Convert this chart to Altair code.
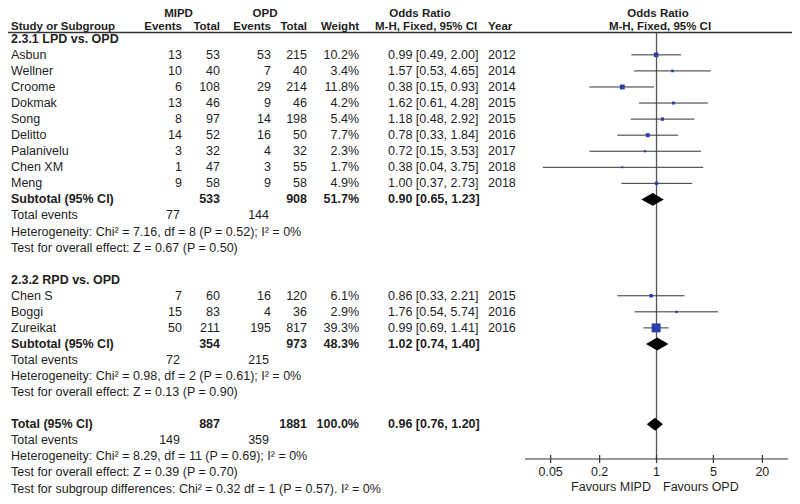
import altair as alt
import pandas as pd

# ---------------- data ----------------
studies = ["Asbun", "Wellner", "Croome", "Dokmak", "Song", "Delitto", "Palanivelu",
           "Chen XM", "Meng", "Chen S", "Boggi", "Zureikat"]
study_rows = [1, 2, 3, 4, 5, 6, 7, 8, 9, 16, 17, 18]
mipd_events = [13, 10, 6, 13, 8, 14, 3, 1, 9, 7, 15, 50]
mipd_total = [53, 40, 108, 46, 97, 52, 32, 47, 58, 60, 83, 211]
opd_events = [53, 7, 29, 9, 14, 16, 4, 3, 9, 16, 4, 195]
opd_total = [215, 40, 214, 46, 198, 50, 32, 55, 58, 120, 36, 817]
weights = [10.2, 3.4, 11.8, 4.2, 5.4, 7.7, 2.3, 1.7, 4.9, 6.1, 2.9, 39.3]
or_est = [0.99, 1.57, 0.38, 1.62, 1.18, 0.78, 0.72, 0.38, 1.00, 0.86, 1.76, 0.99]
or_lo = [0.49, 0.53, 0.15, 0.61, 0.48, 0.33, 0.15, 0.04, 0.37, 0.33, 0.54, 0.69]
or_hi = [2.00, 4.65, 0.93, 4.28, 2.92, 1.84, 3.53, 3.75, 2.73, 2.21, 5.74, 1.41]
years = [2012, 2014, 2014, 2015, 2015, 2016, 2017, 2018, 2018, 2015, 2016, 2016]

group_titles = ["2.3.1 LPD vs. OPD", "2.3.2 RPD vs. OPD"]
group_rows = [0, 15]

summary_labels = ["Subtotal (95% CI)", "Subtotal (95% CI)", "Total (95% CI)"]
summary_rows = [10, 19, 24]
summary_mipd_total = [533, 354, 887]
summary_opd_total = [908, 973, 1881]
summary_weight = [51.7, 48.3, 100.0]
summary_est = [0.90, 1.02, 0.96]
summary_lo = [0.65, 0.74, 0.76]
summary_hi = [1.23, 1.40, 1.20]

events_rows = [11, 20, 25]
events_mipd = [77, 72, 149]
events_opd = [144, 215, 359]

stats_rows = [12, 13, 21, 22, 26, 27, 28]
stats_text = [
    "Heterogeneity: Chi² = 7.16, df = 8 (P = 0.52); I² = 0%",
    "Test for overall effect: Z = 0.67 (P = 0.50)",
    "Heterogeneity: Chi² = 0.98, df = 2 (P = 0.61); I² = 0%",
    "Test for overall effect: Z = 0.13 (P = 0.90)",
    "Heterogeneity: Chi² = 8.29, df = 11 (P = 0.69); I² = 0%",
    "Test for overall effect: Z = 0.39 (P = 0.70)",
    "Test for subgroup differences: Chi² = 0.32 df = 1 (P = 0.57). I² = 0%",
]

axis_ticks = [0.05, 0.2, 1, 5, 20]
axis_tick_labels = ["0.05", "0.2", "1", "5", "20"]

# ---------------- styling / layout ----------------
FONT = "Liberation Sans"
FS = 12.5
HFS = 11.5
TXT = "#1e1e1e"
LINE = "#333333"
BLUE = "#2b3fa8"
W, H = 784, 488

ys = alt.Scale(domain=[0, 28], range=[30.8, 480.5])
xs = alt.Scale(type="log", domain=[0.0242, 41.3], range=[517, 780])


def fmt_or(e, l, h):
    return f"{e:.2f} [{l:.2f}, {h:.2f}]"


study_df = pd.DataFrame({
    "row": study_rows,
    "name": studies,
    "me": [str(v) for v in mipd_events],
    "mt": [str(v) for v in mipd_total],
    "oe": [str(v) for v in opd_events],
    "ot": [str(v) for v in opd_total],
    "wt": [f"{v:.1f}%" for v in weights],
    "w": weights,
    "ortxt": [fmt_or(e, l, h) for e, l, h in zip(or_est, or_lo, or_hi)],
    "year": [str(y) for y in years],
    "est": or_est, "lo": or_lo, "hi": or_hi,
})

summary_df = pd.DataFrame({
    "row": summary_rows,
    "name": summary_labels,
    "mt": [str(v) for v in summary_mipd_total],
    "ot": [str(v) for v in summary_opd_total],
    "wt": [f"{v:.1f}%" for v in summary_weight],
    "ortxt": [fmt_or(e, l, h) for e, l, h in zip(summary_est, summary_lo, summary_hi)],
})

events_df = pd.DataFrame({
    "row": events_rows,
    "name": ["Total events"] * len(events_rows),
    "me": [str(v) for v in events_mipd],
    "oe": [str(v) for v in events_opd],
})

group_df = pd.DataFrame({"row": group_rows, "name": group_titles})
stats_df = pd.DataFrame({"row": stats_rows, "name": stats_text})

# diamonds built from summary lists
dia = []
for i, (r, e, l, h) in enumerate(zip(summary_rows, summary_est, summary_lo, summary_hi)):
    dia.append({"g": i, "x": l, "y1": r, "y2": r})
    dia.append({"g": i, "x": e, "y1": r - 0.4, "y2": r + 0.4})
    dia.append({"g": i, "x": h, "y1": r, "y2": r})
dia_df = pd.DataFrame(dia)

axis_df = pd.DataFrame({"v": axis_ticks, "lab": axis_tick_labels})


def col_text(df, field, x, align, bold=False):
    return alt.Chart(df).mark_text(
        align=align, baseline="middle", font=FONT, fontSize=FS,
        fontWeight="bold" if bold else "normal", color=TXT
    ).encode(
        x=alt.value(x),
        y=alt.Y("row:Q", scale=ys, axis=None),
        text=alt.Text(f"{field}:N"),
    )


def label(text, x, y, align="left", bold=False, size=FS):
    return alt.Chart(pd.DataFrame({"t": [text]})).mark_text(
        align=align, baseline="middle", font=FONT, fontSize=size,
        fontWeight="bold" if bold else "normal", color=TXT
    ).encode(x=alt.value(x), y=alt.value(y), text="t:N")


X_NAME, X_ME, X_MT, X_OE, X_OT, X_WT, X_OR, X_YR = 3, 174, 212, 263, 299, 351, 380, 480
HY1, HY2, HLINE = 6, 18.5, 24.5

layers = []
# headers
layers += [
    label("MIPD", 170.5, HY1, "center", True, HFS),
    label("OPD", 257, HY1, "center", True, HFS),
    label("Odds Ratio", 412, HY1, "center", True, HFS),
    label("Odds Ratio", 650, HY1, "center", True, HFS),
    label("Study or Subgroup", X_NAME, HY2, "left", True, HFS),
    label("Events", X_ME, HY2, "right", True, HFS),
    label("Total", X_MT, HY2, "right", True, HFS),
    label("Events", X_OE, HY2, "right", True, HFS),
    label("Total", X_OT, HY2, "right", True, HFS),
    label("Weight", X_WT, HY2, "right", True, HFS),
    label("M-H, Fixed, 95% CI", 367, HY2, "left", True, HFS),
    label("Year", X_YR, HY2, "left", True, HFS),
    label("M-H, Fixed, 95% CI", 652, HY2, "center", True, HFS),
]
# header rule
layers.append(
    alt.Chart(pd.DataFrame({"a": [0]})).mark_rule(color=LINE, strokeWidth=1.3).encode(
        x=alt.value(0), x2=alt.value(W), y=alt.value(HLINE)
    )
)

# group titles
layers.append(col_text(group_df, "name", X_NAME, "left", True))
# study rows
layers += [
    col_text(study_df, "name", X_NAME, "left"),
    col_text(study_df, "me", X_ME, "right"),
    col_text(study_df, "mt", X_MT, "right"),
    col_text(study_df, "oe", X_OE, "right"),
    col_text(study_df, "ot", X_OT, "right"),
    col_text(study_df, "wt", X_WT, "right"),
    col_text(study_df, "ortxt", X_OR, "left"),
    col_text(study_df, "year", X_YR, "left"),
]
# summary rows
layers += [
    col_text(summary_df, "name", X_NAME, "left", True),
    col_text(summary_df, "mt", X_MT, "right", True),
    col_text(summary_df, "ot", X_OT, "right", True),
    col_text(summary_df, "wt", X_WT, "right", True),
    col_text(summary_df, "ortxt", X_OR, "left", True),
]
# total events rows
layers += [
    col_text(events_df, "name", X_NAME, "left"),
    col_text(events_df, "me", X_ME - 2, "right"),
    col_text(events_df, "oe", X_OE - 2, "right"),
]
# stats rows
layers.append(col_text(stats_df, "name", X_NAME, "left"))

# reference line at OR = 1
layers.append(
    alt.Chart(pd.DataFrame({"v": [1]})).mark_rule(color="#555555", strokeWidth=1.3).encode(
        x=alt.X("v:Q", scale=xs, axis=None), y=alt.value(HLINE), y2=alt.value(451)
    )
)
# CI lines
layers.append(
    alt.Chart(study_df).mark_rule(color=LINE, strokeWidth=1).encode(
        x=alt.X("lo:Q", scale=xs, axis=None), x2="hi:Q",
        y=alt.Y("row:Q", scale=ys, axis=None),
    )
)
# squares
layers.append(
    alt.Chart(study_df).mark_square(color=BLUE, opacity=1).encode(
        x=alt.X("est:Q", scale=xs, axis=None),
        y=alt.Y("row:Q", scale=ys, axis=None),
        size=alt.Size("w:Q", scale=alt.Scale(domain=[0, 40], range=[0, 82]), legend=None),
    )
)
# diamonds
layers.append(
    alt.Chart(dia_df).mark_area(color="black", opacity=1).encode(
        x=alt.X("x:Q", scale=xs, axis=None),
        y=alt.Y("y1:Q", scale=ys, axis=None),
        y2="y2:Q",
        detail="g:N",
    )
)
# axis
layers.append(
    alt.Chart(pd.DataFrame({"a": [0]})).mark_rule(color=LINE, strokeWidth=1.2).encode(
        x=alt.value(517), x2=alt.value(780), y=alt.value(451)
    )
)
layers.append(
    alt.Chart(axis_df).mark_rule(color=LINE, strokeWidth=1.2).encode(
        x=alt.X("v:Q", scale=xs, axis=None), y=alt.value(447), y2=alt.value(455)
    )
)
layers.append(
    alt.Chart(axis_df).mark_text(font=FONT, fontSize=FS, color=TXT, baseline="middle", align="center").encode(
        x=alt.X("v:Q", scale=xs, axis=None), y=alt.value(464), text="lab:N"
    )
)
layers += [
    label("Favours MIPD", 643, 479, "right"),
    label("Favours OPD", 655, 479, "left"),
]

chart = alt.layer(*layers).properties(
    width=W, height=H, padding=0,
    autosize=alt.AutoSizeParams(type="none"),
).configure_view(stroke=None)

chart.save("out.html", embed_options={"renderer": "svg", "actions": False})
